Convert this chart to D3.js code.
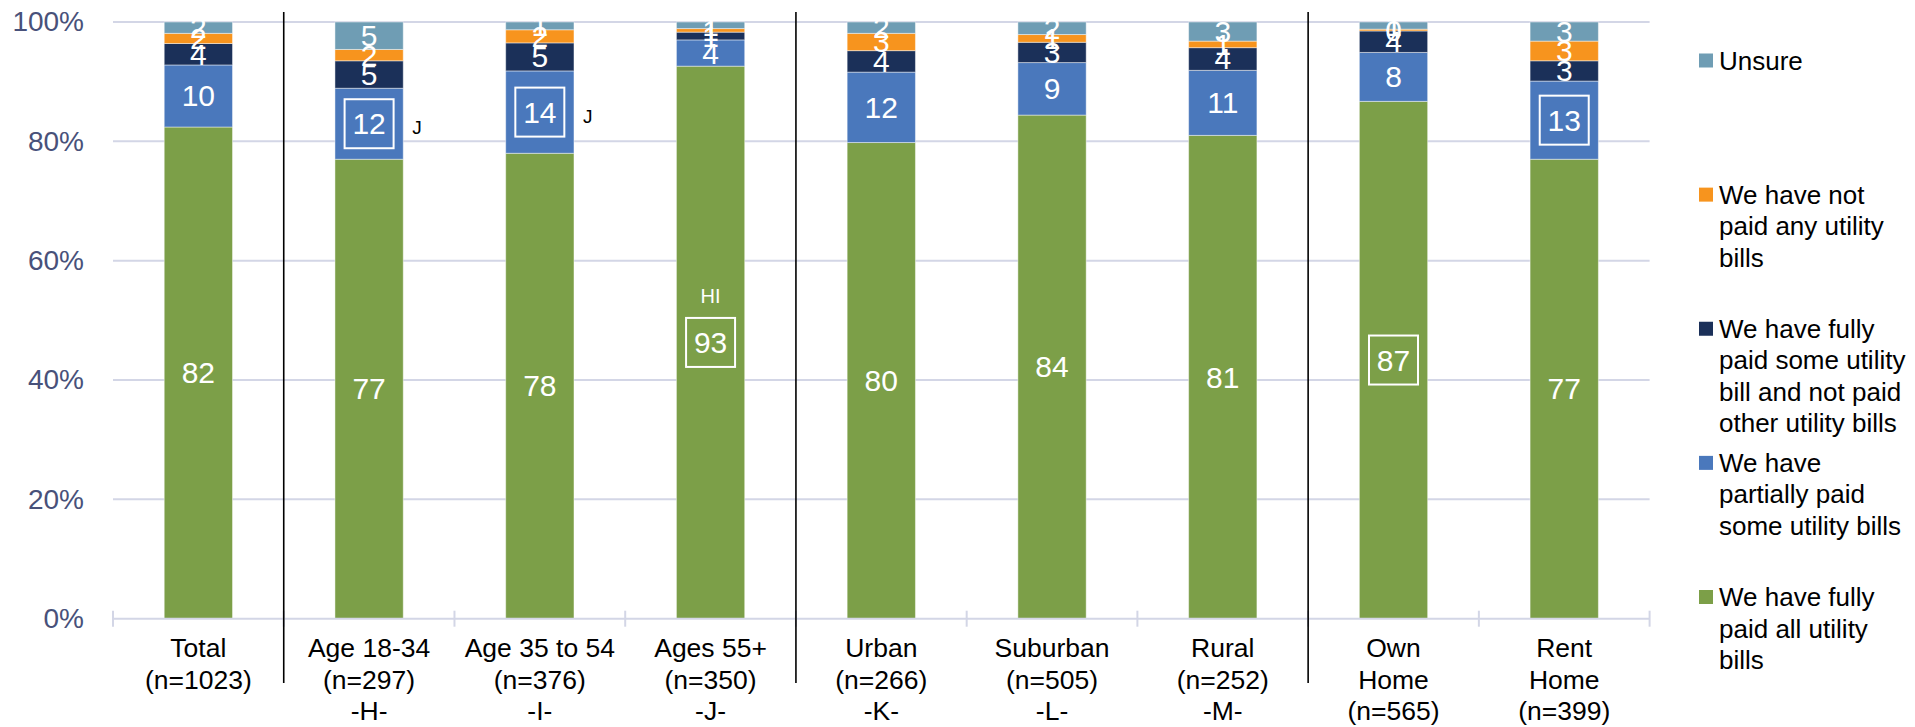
<!DOCTYPE html>
<html>
<head>
<meta charset="utf-8">
<script src="https://cdn.jsdelivr.net/npm/d3@7"></script>
<style>
  html, body { margin: 0; padding: 0; background: #ffffff; }
  svg { display: block; font-family: "Liberation Sans", Arial, sans-serif; }
</style>
</head>
<body>
<svg id="chart" width="1915" height="727"></svg>
<script>
// ---- data -------------------------------------------------------------
const categories = ["Total", "Age 18-34", "Age 35 to 54", "Ages 55+", "Urban", "Suburban", "Rural", "Own Home", "Rent Home"];
const categoryLabels = [
  ["Total", "(n=1023)"],
  ["Age 18-34", "(n=297)", "-H-"],
  ["Age 35 to 54", "(n=376)", "-I-"],
  ["Ages 55+", "(n=350)", "-J-"],
  ["Urban", "(n=266)", "-K-"],
  ["Suburban", "(n=505)", "-L-"],
  ["Rural", "(n=252)", "-M-"],
  ["Own", "Home", "(n=565)"],
  ["Rent", "Home", "(n=399)"]
];
// groups are separated after these categories
const groupEnds = ["Total", "Ages 55+", "Rural"];

// series, bottom of the stack first (percent of respondents)
const seriesKeys = ["paidAll", "partiallyPaid", "paidSome", "notPaid", "unsure"];
const seriesNames = [
  ["We have fully", "paid all utility", "bills"],
  ["We have", "partially paid", "some utility bills"],
  ["We have fully", "paid some utility", "bill and not paid", "other utility bills"],
  ["We have not", "paid any utility", "bills"],
  ["Unsure"]
];
const paidAll       = [82.4, 77.0, 78.0, 92.6, 79.8, 84.4, 81.0, 86.7, 77.0];
const partiallyPaid = [10.4, 11.9, 13.8,  4.4, 11.8,  8.8, 10.9,  8.2, 13.1];
const paidSome      = [ 3.6,  4.6,  4.7,  1.3,  3.6,  3.4,  3.8,  3.6,  3.4];
const notPaid       = [ 1.7,  1.9,  2.2,  0.6,  2.9,  1.3,  1.1,  0.3,  3.3];
const unsure        = [ 1.9,  4.6,  1.3,  1.1,  1.9,  2.1,  3.2,  1.2,  3.2];

const yTicks = [0, 0.2, 0.4, 0.6, 0.8, 1];

// significance markers: boxed value and letters of the groups it differs from
const sigCategory = ["Age 18-34", "Age 35 to 54", "Ages 55+", "Own Home", "Rent Home"];
const sigSeries   = ["partiallyPaid", "partiallyPaid", "paidAll", "paidAll", "partiallyPaid"];
const sigLetters  = ["J", "J", "HI", "", ""];

// ---- styling ------------------------------------------------------------
const colors = {
  paidAll: "#7C9F48",
  partiallyPaid: "#4A78BC",
  paidSome: "#1B3059",
  notPaid: "#F7941E",
  unsure: "#6F9DB4"
};
const gridColor = "#D3D6E6";
const tickTextColor = "#48517A";

const svg = d3.select("#chart");
const plot = { left: 113, right: 1649.6, top: 22, bottom: 618.7 };

const x = d3.scaleBand()
  .domain(categories)
  .range([plot.left, plot.right])
  .paddingInner(0.6)
  .paddingOuter(0.3);

const y = d3.scaleLinear().domain([0, 1]).range([plot.bottom, plot.top]);

const rows = categories.map((c, i) => ({
  category: c,
  paidAll: paidAll[i],
  partiallyPaid: partiallyPaid[i],
  paidSome: paidSome[i],
  notPaid: notPaid[i],
  unsure: unsure[i]
}));

const stacked = d3.stack().keys(seriesKeys).offset(d3.stackOffsetExpand)(rows);

// ---- gridlines ------------------------------------------------------------
svg.append("g")
  .selectAll("line")
  .data(yTicks.filter(t => t > 0))
  .join("line")
  .attr("x1", plot.left).attr("x2", plot.right)
  .attr("y1", d => y(d)).attr("y2", d => y(d))
  .attr("stroke", gridColor).attr("stroke-width", 2);

// ---- y axis labels ---------------------------------------------------------
const yAxis = svg.append("g")
  .attr("transform", `translate(${plot.left},0)`)
  .call(d3.axisLeft(y).tickValues(yTicks).tickFormat(d3.format(".0%")).tickSize(0).tickPadding(29));
yAxis.select(".domain").remove();
yAxis.selectAll("text")
  .attr("font-size", 28)
  .attr("fill", tickTextColor)
  .attr("font-family", "\"Liberation Sans\", Arial, sans-serif");

// ---- bars -------------------------------------------------------------------
const layers = svg.append("g")
  .selectAll("g")
  .data(stacked)
  .join("g")
  .attr("fill", d => colors[d.key]);

layers.selectAll("rect")
  .data(d => d.map(s => ({ key: d.key, s })))
  .join("rect")
  .attr("x", d => x(d.s.data.category))
  .attr("width", x.bandwidth())
  .attr("y", d => y(d.s[1]))
  .attr("height", d => y(d.s[0]) - y(d.s[1]))
  .attr("stroke", "#ffffff")
  .attr("stroke-opacity", 0.45)
  .attr("stroke-width", 1);

// ---- x axis line with crossing ticks ---------------------------------------
svg.append("line")
  .attr("x1", plot.left).attr("x2", plot.right)
  .attr("y1", y(0)).attr("y2", y(0))
  .attr("stroke", gridColor).attr("stroke-width", 2);

const boundaries = d3.range(categories.length + 1).map(i => plot.left + i * x.step());
svg.append("g")
  .selectAll("line")
  .data(boundaries)
  .join("line")
  .attr("x1", d => d).attr("x2", d => d)
  .attr("y1", y(0) - 8).attr("y2", y(0) + 8)
  .attr("stroke", gridColor).attr("stroke-width", 2);

// ---- group separators --------------------------------------------------------
svg.append("g")
  .selectAll("line")
  .data(groupEnds)
  .join("line")
  .attr("x1", d => x(d) + x.bandwidth() + x.step() * x.paddingInner() / 2)
  .attr("x2", d => x(d) + x.bandwidth() + x.step() * x.paddingInner() / 2)
  .attr("y1", 12).attr("y2", 683)
  .attr("stroke", "#000000").attr("stroke-width", 1.6);

// ---- category labels ------------------------------------------------------------
const catText = svg.append("g")
  .selectAll("text")
  .data(categories)
  .join("text")
  .attr("text-anchor", "middle")
  .attr("font-size", 26.5)
  .attr("fill", "#000000");
catText.selectAll("tspan")
  .data((d, i) => categoryLabels[i].map(line => ({ line, c: d })))
  .join("tspan")
  .attr("x", d => x(d.c) + x.bandwidth() / 2)
  .attr("y", (d, j) => 657 + j * 31.5)
  .text(d => d.line);

// ---- value labels -----------------------------------------------------------------
const labelLayer = svg.append("g");
stacked.forEach(layer => {
  layer.forEach(s => {
    const value = s.data[layer.key];
    labelLayer.append("text")
      .attr("x", x(s.data.category) + x.bandwidth() / 2)
      .attr("y", (y(s[0]) + y(s[1])) / 2)
      .attr("dy", "0.35em")
      .attr("text-anchor", "middle")
      .attr("font-size", 30)
      .attr("fill", "#ffffff")
      .text(Math.round(value));
  });
});

// ---- significance boxes and letters -----------------------------------------------
sigCategory.forEach((cat, i) => {
  const layer = stacked.find(l => l.key === sigSeries[i]);
  const s = layer[categories.indexOf(cat)];
  const cx = x(cat) + x.bandwidth() / 2;
  const cy = (y(s[0]) + y(s[1])) / 2;
  const box = 49;
  svg.append("rect")
    .attr("x", cx - box / 2).attr("y", cy - box / 2)
    .attr("width", box).attr("height", box)
    .attr("fill", "none")
    .attr("stroke", "#ffffff").attr("stroke-width", 2);
  if (!sigLetters[i]) return;
  if (sigSeries[i] === "paidAll") {
    // room inside the tall bar: letters sit above the box
    svg.append("text")
      .attr("x", cx).attr("y", cy - 46)
      .attr("dy", "0.35em")
      .attr("text-anchor", "middle")
      .attr("font-size", 20)
      .attr("fill", "#ffffff")
      .text(sigLetters[i]);
  } else {
    svg.append("text")
      .attr("x", x(cat) + x.bandwidth() + 9).attr("y", cy + 4)
      .attr("dy", "0.35em")
      .attr("text-anchor", "start")
      .attr("font-size", 19)
      .attr("fill", "#000000")
      .text(sigLetters[i]);
  }
});

// ---- legend (top entry is the top of the stack) ------------------------------------
const legendOrder = seriesKeys.slice().reverse();
const legendY = d3.scalePoint().domain(legendOrder).range([60.5, 597]);
const legend = svg.append("g")
  .selectAll("g")
  .data(legendOrder)
  .join("g")
  .attr("transform", d => `translate(1699,${legendY(d)})`);
legend.append("rect")
  .attr("x", 0).attr("y", -7)
  .attr("width", 14).attr("height", 14)
  .attr("fill", d => colors[d]);
const legendText = legend.append("text")
  .attr("font-size", 26)
  .attr("fill", "#000000");
legendText.selectAll("tspan")
  .data(d => seriesNames[seriesKeys.indexOf(d)])
  .join("tspan")
  .attr("x", 20)
  .attr("y", (d, j) => j * 31.5)
  .attr("dy", "0.35em")
  .text(d => d);
</script>
</body>
</html>
